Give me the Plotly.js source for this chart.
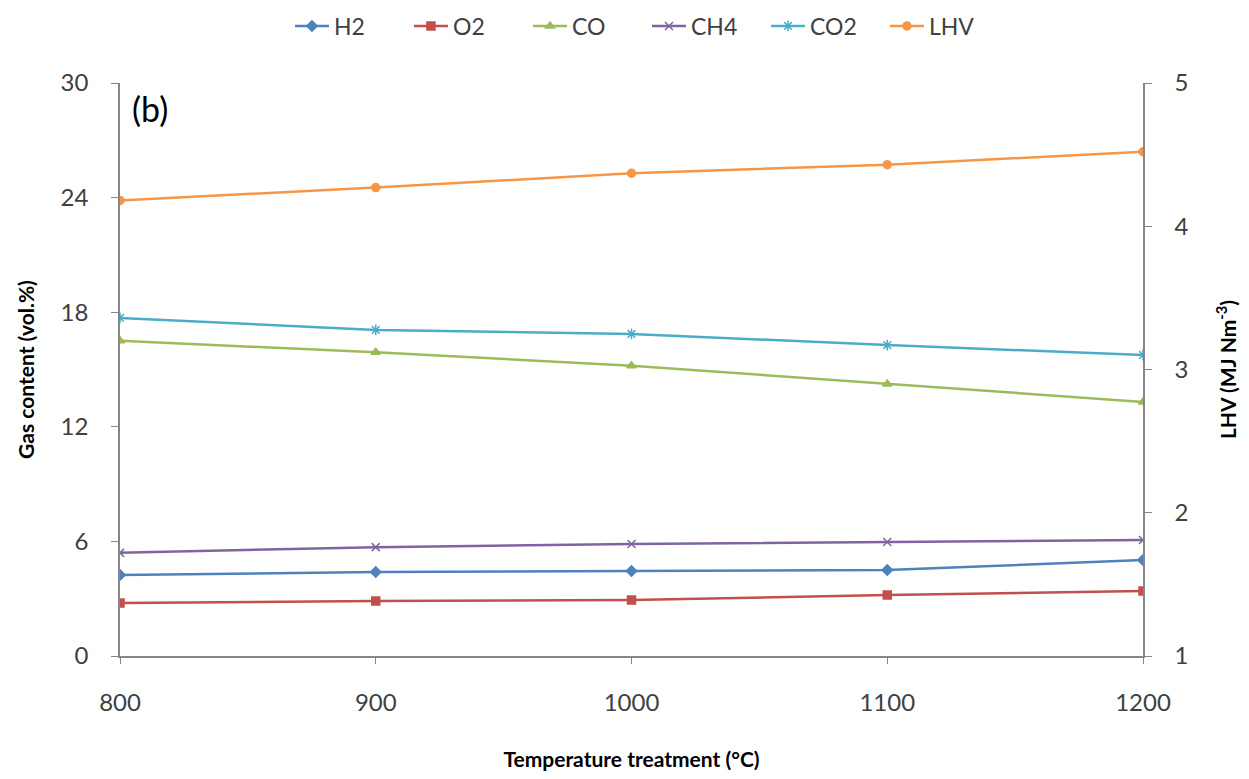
<!DOCTYPE html>
<html><head><meta charset="utf-8">
<script src="https://cdn.plot.ly/plotly-3.0.1.min.js"></script>
<style>html,body{margin:0;padding:0;background:#fff}#c{width:1249px;height:779px}</style>
</head><body><div id="c"></div>
<script>
const temps = [800, 900, 1000, 1100, 1200];
const H2 = [4.24, 4.4, 4.45, 4.5, 5.03];
const O2 = [2.77, 2.88, 2.93, 3.19, 3.4];
const CO = [16.5, 15.9, 15.2, 14.24, 13.3];
const CH4 = [5.4, 5.7, 5.86, 5.97, 6.07];
const CO2 = [17.7, 17.07, 16.86, 16.28, 15.76];
const LHV = [4.18, 4.27, 4.37, 4.43, 4.52];
const leftTicks = [0, 6, 12, 18, 24, 30];
const rightTicks = [1, 2, 3, 4, 5];

function tr(name, y, color, symbol, size, axis) {
  return {x: temps, y: y, name: name, type: 'scatter', mode: 'lines+markers',
    yaxis: axis || 'y',
    line: {color: color, width: 2.5},
    marker: {symbol: symbol, size: size, color: color, line: {color: color, width: 1.5}}};
}
const data = [
  tr('H2', H2, '#4F81BD', 'diamond', 8),
  tr('O2', O2, '#C0504D', 'square', 8),
  tr('CO', CO, '#9BBB59', 'triangle-up', 8),
  tr('CH4', CH4, '#8064A2', 'x-thin', 8),
  tr('CO2', CO2, '#4BACC6', 'asterisk', 9),
  tr('LHV', LHV, '#F79646', 'circle', 8, 'y2')
];
const fam = 'Lato, "Open Sans", sans-serif';
const tickFont = {size: 24, family: fam, color: '#404040'};
const titleFont = {size: 21, family: fam, color: '#000'};
const layout = {
  width: 1249, height: 779,
  margin: {l: 120, r: 106, t: 83, b: 123, autoexpand: false},
  paper_bgcolor: '#fff', plot_bgcolor: '#fff',
  font: {family: fam, color: '#404040'},
  showlegend: true,
  legend: {orientation: 'h', x: 0.518, xref: 'container', xanchor: 'center',
    y: 1 - 26 / 779, yref: 'container', yanchor: 'middle',
    font: {size: 23, family: fam, color: '#404040'}, itemwidth: 34,
    entrywidth: 70, entrywidthmode: 'pixels'},
  xaxis: {range: [800, 1200], tickvals: temps, ticktext: temps.map(String),
    showgrid: false, zeroline: false, showline: true, linecolor: '#868686', linewidth: 1.5,
    ticks: 'outside', ticklen: 6, tickcolor: '#868686', ticklabelstandoff: 18,
    tickfont: tickFont,
    title: {text: '<b>Temperature treatment (°C)</b>', font: titleFont, standoff: 38}},
  yaxis: {range: [0, 30], tickvals: leftTicks, showgrid: false, zeroline: false,
    showline: true, linecolor: '#868686', linewidth: 1.5,
    ticks: 'outside', ticklen: 7, tickcolor: '#868686', ticklabelstandoff: 18,
    tickfont: tickFont,
    title: {text: '<b>Gas content (vol.%)</b>', font: titleFont, standoff: 20}},
  yaxis2: {range: [1, 5], tickvals: rightTicks, overlaying: 'y', side: 'right',
    showgrid: false, zeroline: false, showline: true, linecolor: '#868686', linewidth: 1.5,
    ticks: 'outside', ticklen: 7, tickcolor: '#868686', ticklabelstandoff: 18,
    tickfont: tickFont,
    title: {text: '<b>LHV (MJ Nm<sup>-3</sup>)</b>', font: titleFont, standoff: 34}},
  annotations: [{text: '(b)', xref: 'paper', yref: 'paper', x: 0.01, y: 0.995,
    xanchor: 'left', yanchor: 'top', showarrow: false,
    font: {size: 34, family: fam, color: '#000'}}]
};
Plotly.newPlot('c', data, layout, {displayModeBar: false});
</script></body></html>
